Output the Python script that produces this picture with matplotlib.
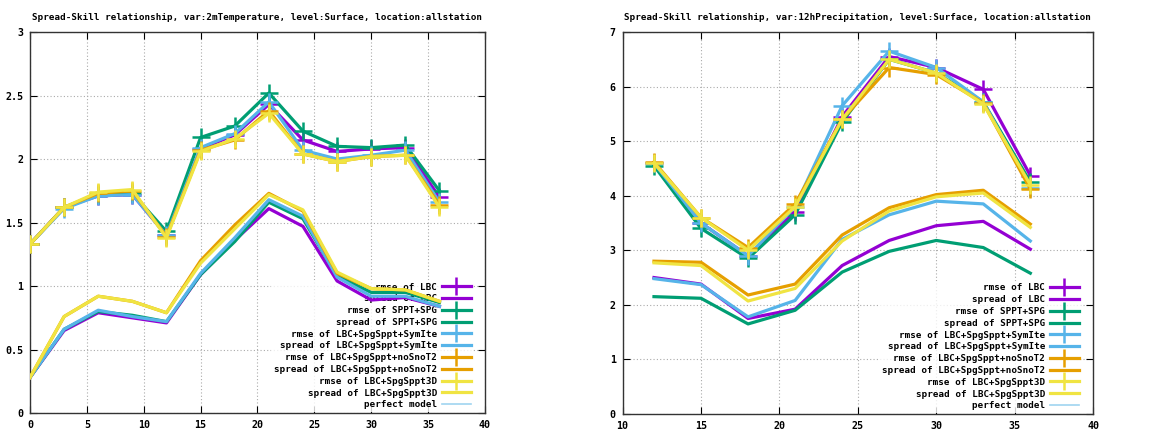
import numpy as np
import matplotlib
matplotlib.use("Agg")
import matplotlib.pyplot as plt
from matplotlib.lines import Line2D

plt.rcParams["font.family"] = "DejaVu Sans Mono"
plt.rcParams["font.weight"] = "bold"

# experiment names and colours (gnuplot default palette)
experiments = ["LBC", "SPPT+SPG", "LBC+SpgSppt+SymIte", "LBC+SpgSppt+noSnoT2", "LBC+SpgSppt3D"]
colors = ["#9400d3", "#009e73", "#56b4e9", "#e69f00", "#f0e442"]
perfect_color = "#9fd4f0"

# ---- 2m temperature ----
t2m_lead = [0, 3, 6, 9, 12, 15, 18, 21, 24, 27, 30, 33, 36]
t2m_rmse_lbc = [1.33, 1.62, 1.71, 1.72, 1.40, 2.08, 2.19, 2.43, 2.15, 2.06, 2.08, 2.09, 1.70]
t2m_rmse_sppt = [1.33, 1.62, 1.72, 1.73, 1.43, 2.17, 2.26, 2.52, 2.22, 2.10, 2.09, 2.11, 1.75]
t2m_rmse_sym = [1.33, 1.61, 1.71, 1.72, 1.40, 2.09, 2.20, 2.45, 2.07, 2.00, 2.03, 2.07, 1.66]
t2m_rmse_nosno = [1.33, 1.62, 1.73, 1.75, 1.39, 2.07, 2.15, 2.38, 2.04, 1.98, 2.02, 2.03, 1.64]
t2m_rmse_3d = [1.33, 1.62, 1.74, 1.76, 1.38, 2.06, 2.16, 2.36, 2.04, 1.98, 2.02, 2.03, 1.62]
t2m_spread_lbc = [0.28, 0.65, 0.79, 0.75, 0.71, 1.09, 1.36, 1.61, 1.47, 1.04, 0.89, 0.91, 0.84]
t2m_spread_sppt = [0.28, 0.66, 0.80, 0.77, 0.72, 1.09, 1.35, 1.66, 1.53, 1.08, 0.95, 0.95, 0.87]
t2m_spread_sym = [0.28, 0.66, 0.81, 0.76, 0.72, 1.10, 1.38, 1.68, 1.55, 1.07, 0.92, 0.92, 0.84]
t2m_spread_nosno = [0.28, 0.76, 0.92, 0.88, 0.79, 1.20, 1.48, 1.73, 1.59, 1.10, 0.98, 0.97, 0.88]
t2m_spread_3d = [0.28, 0.76, 0.92, 0.88, 0.79, 1.18, 1.45, 1.72, 1.60, 1.11, 0.98, 0.97, 0.88]

# ---- 12h precipitation ----
pr_lead = [12, 15, 18, 21, 24, 27, 30, 33, 36]
pr_rmse_lbc = [4.60, 3.50, 2.90, 3.70, 5.45, 6.55, 6.35, 5.95, 4.37]
pr_rmse_sppt = [4.55, 3.40, 2.85, 3.65, 5.35, 6.50, 6.25, 5.72, 4.25]
pr_rmse_sym = [4.60, 3.50, 2.90, 3.80, 5.65, 6.65, 6.35, 5.72, 4.15]
pr_rmse_nosno = [4.62, 3.60, 3.05, 3.85, 5.40, 6.35, 6.22, 5.70, 4.12]
pr_rmse_3d = [4.60, 3.60, 3.00, 3.80, 5.40, 6.50, 6.25, 5.68, 4.20]
pr_spread_lbc = [2.50, 2.38, 1.75, 1.92, 2.72, 3.18, 3.45, 3.53, 3.02]
pr_spread_sppt = [2.15, 2.12, 1.65, 1.90, 2.60, 2.98, 3.18, 3.05, 2.58]
pr_spread_sym = [2.48, 2.37, 1.78, 2.08, 3.20, 3.65, 3.90, 3.85, 3.17]
pr_spread_nosno = [2.80, 2.78, 2.18, 2.38, 3.28, 3.78, 4.02, 4.10, 3.48]
pr_spread_3d = [2.77, 2.72, 2.07, 2.30, 3.17, 3.72, 3.98, 4.05, 3.42]

FS = 6.7
TICK_FS = 7.2


def draw_panel(ax, title, lead, rmse, spread, xlim, xticks, ylim, yticks):
    handles = []
    for name, col, r, s in zip(experiments, colors, rmse, spread):
        h1, = ax.plot(lead, r, color=col, lw=2.3, marker="+", ms=13, mew=1.8,
                      zorder=3, label=f"rmse of {name}")
        h2, = ax.plot(lead, s, color=col, lw=2.3, zorder=3, label=f"spread of {name}")
        handles += [h1, h2]
    handles.append(Line2D([], [], color=perfect_color, lw=1.2, label="perfect model"))

    ax.set_xlim(*xlim)
    ax.set_ylim(*ylim)
    ax.set_xticks(xticks)
    ax.set_yticks(yticks)
    ax.set_yticklabels([f"{v:g}" for v in yticks])
    ax.grid(True, color="#aaaaaa", ls=(0, (1, 2)), lw=0.8)
    ax.tick_params(direction="in", length=5, width=0.8, top=True, right=True,
                   labelsize=TICK_FS, pad=5)
    for sp in ax.spines.values():
        sp.set_linewidth(1.0)
        sp.set_color("#333333")
    ax.set_title(title, fontsize=FS, fontweight="bold", pad=9)

    leg = ax.legend(handles=handles, loc="lower right", bbox_to_anchor=(0.985, -0.01),
                    markerfirst=False, frameon=True, fontsize=FS, handlelength=3.1,
                    handletextpad=0.5, labelspacing=0.3, borderpad=0.3,
                    fancybox=False)
    leg.get_frame().set_edgecolor("none")
    leg.get_frame().set_facecolor("white")
    leg.set_zorder(2.5)


fig = plt.figure(figsize=(11.53, 4.33), dpi=100)
ax1 = fig.add_axes([0.026, 0.046, 0.3946, 0.880])
ax2 = fig.add_axes([0.540, 0.044, 0.408, 0.882])

draw_panel(ax1, "Spread-Skill relationship, var:2mTemperature, level:Surface, location:allstation",
           t2m_lead,
           [t2m_rmse_lbc, t2m_rmse_sppt, t2m_rmse_sym, t2m_rmse_nosno, t2m_rmse_3d],
           [t2m_spread_lbc, t2m_spread_sppt, t2m_spread_sym, t2m_spread_nosno, t2m_spread_3d],
           (0, 40), range(0, 41, 5), (0, 3), [0, 0.5, 1, 1.5, 2, 2.5, 3])

draw_panel(ax2, "Spread-Skill relationship, var:12hPrecipitation, level:Surface, location:allstation",
           pr_lead,
           [pr_rmse_lbc, pr_rmse_sppt, pr_rmse_sym, pr_rmse_nosno, pr_rmse_3d],
           [pr_spread_lbc, pr_spread_sppt, pr_spread_sym, pr_spread_nosno, pr_spread_3d],
           (10, 40), range(10, 41, 5), (0, 7), list(range(0, 8)))

fig.savefig("out.png", dpi=100)
